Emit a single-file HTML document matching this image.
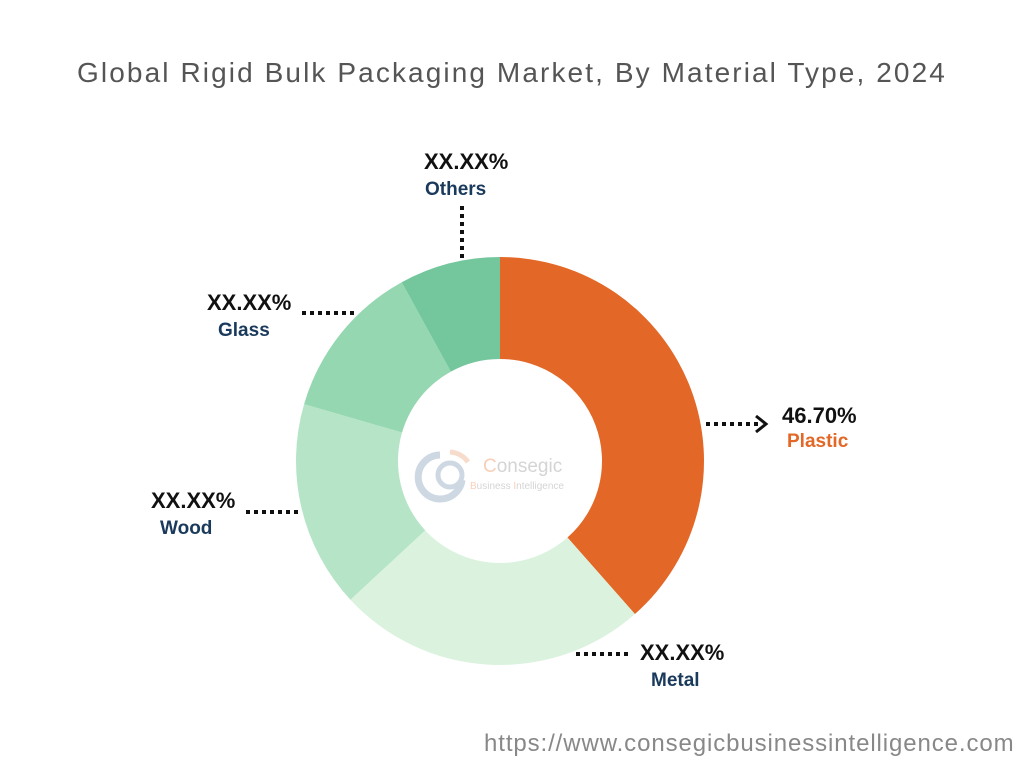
<!DOCTYPE html>
<html><head><meta charset="utf-8"><style>
body{margin:0;width:1024px;height:768px;background:#fff;font-family:"Liberation Sans",sans-serif;overflow:hidden;position:relative}
.t{position:absolute;white-space:nowrap}
.v{font-weight:bold;font-size:22px;color:#111}
.n{font-weight:bold;font-size:19px;color:#1a3a5c}
</style></head><body>
<div class="t" style="left:0;width:1024px;text-align:center;top:57px;font-size:28px;color:#555;letter-spacing:2.1px">Global Rigid Bulk Packaging Market, By Material Type, 2024</div>
<svg id="c" width="1024" height="768" style="position:absolute;left:0;top:0">
<g id="slices"></g>
<g stroke="#111" stroke-width="4" stroke-dasharray="4,4" fill="none">
<line x1="706" y1="424" x2="762" y2="424"/>
<path d="M756 416 L766 424 L756 432" stroke-dasharray="none" stroke-width="3"/>
<line x1="576" y1="654" x2="630" y2="654"/>
<line x1="246" y1="512" x2="300" y2="512"/>
<line x1="302" y1="313" x2="356" y2="313"/>
<line x1="462" y1="206" x2="462" y2="258"/>
</g>
<g opacity="0.5">
<path d="M440 455 A22 22 0 1 0 462 480" stroke="#9fb3c8" stroke-width="7" fill="none"/>
<circle cx="450" cy="475" r="12" stroke="#9fb3c8" stroke-width="5" fill="none"/>
<path d="M450 452 A24 24 0 0 1 468 462" stroke="#f0b898" stroke-width="5" fill="none"/>
<text x="483" y="472" font-size="19" fill="#aaa" font-family="Liberation Sans"><tspan fill="#f0a070">C</tspan>onsegic</text>
<text x="470" y="489" font-size="10" fill="#aaa" font-family="Liberation Sans"><tspan fill="#f0a070">B</tspan>usiness <tspan fill="#f0a070">I</tspan>ntelligence</text>
</g>
</svg>
<div class="t v" style="left:782px;top:403px">46.70%</div>
<div class="t n" style="left:787px;top:431px;color:#e36726">Plastic</div>
<div class="t v" style="left:640px;top:640px">XX.XX%</div>
<div class="t n" style="left:651px;top:670px">Metal</div>
<div class="t v" style="left:151px;top:488px">XX.XX%</div>
<div class="t n" style="left:160px;top:518px">Wood</div>
<div class="t v" style="left:207px;top:290px">XX.XX%</div>
<div class="t n" style="left:218px;top:320px">Glass</div>
<div class="t v" style="left:424px;top:149px">XX.XX%</div>
<div class="t n" style="left:425px;top:179px">Others</div>
<div class="t" style="left:484px;top:730px;font-size:24px;color:#888;letter-spacing:0.9px">https://www.consegicbusinessintelligence.com</div>
<script>
const categories=["Plastic","Metal","Wood","Glass","Others"];
const values=[38.5,24.6,16.4,12.5,8.0];
const colors=["#e36726","#daf2de","#b5e5c6","#95d7b0","#74c69d"];
const cx=500,cy=461,R=204,r=102;
const g=document.getElementById('slices');
const total=values.reduce((a,b)=>a+b,0);
let a0=0;
function pt(rad,a){return [cx+rad*Math.sin(a),cy-rad*Math.cos(a)];}
values.forEach((v,i)=>{
 const a1=a0+v/total*2*Math.PI;
 const L=(a1-a0)>Math.PI?1:0;
 const p1=pt(R,a0),p2=pt(R,a1),p3=pt(r,a1),p4=pt(r,a0);
 const p=document.createElementNS('http://www.w3.org/2000/svg','path');
 p.setAttribute('d',`M${p1} A${R} ${R} 0 ${L} 1 ${p2} L${p3} A${r} ${r} 0 ${L} 0 ${p4}Z`);
 p.setAttribute('fill',colors[i]);
 
 
 g.appendChild(p);
 a0=a1;
});
</script>
</body></html>
